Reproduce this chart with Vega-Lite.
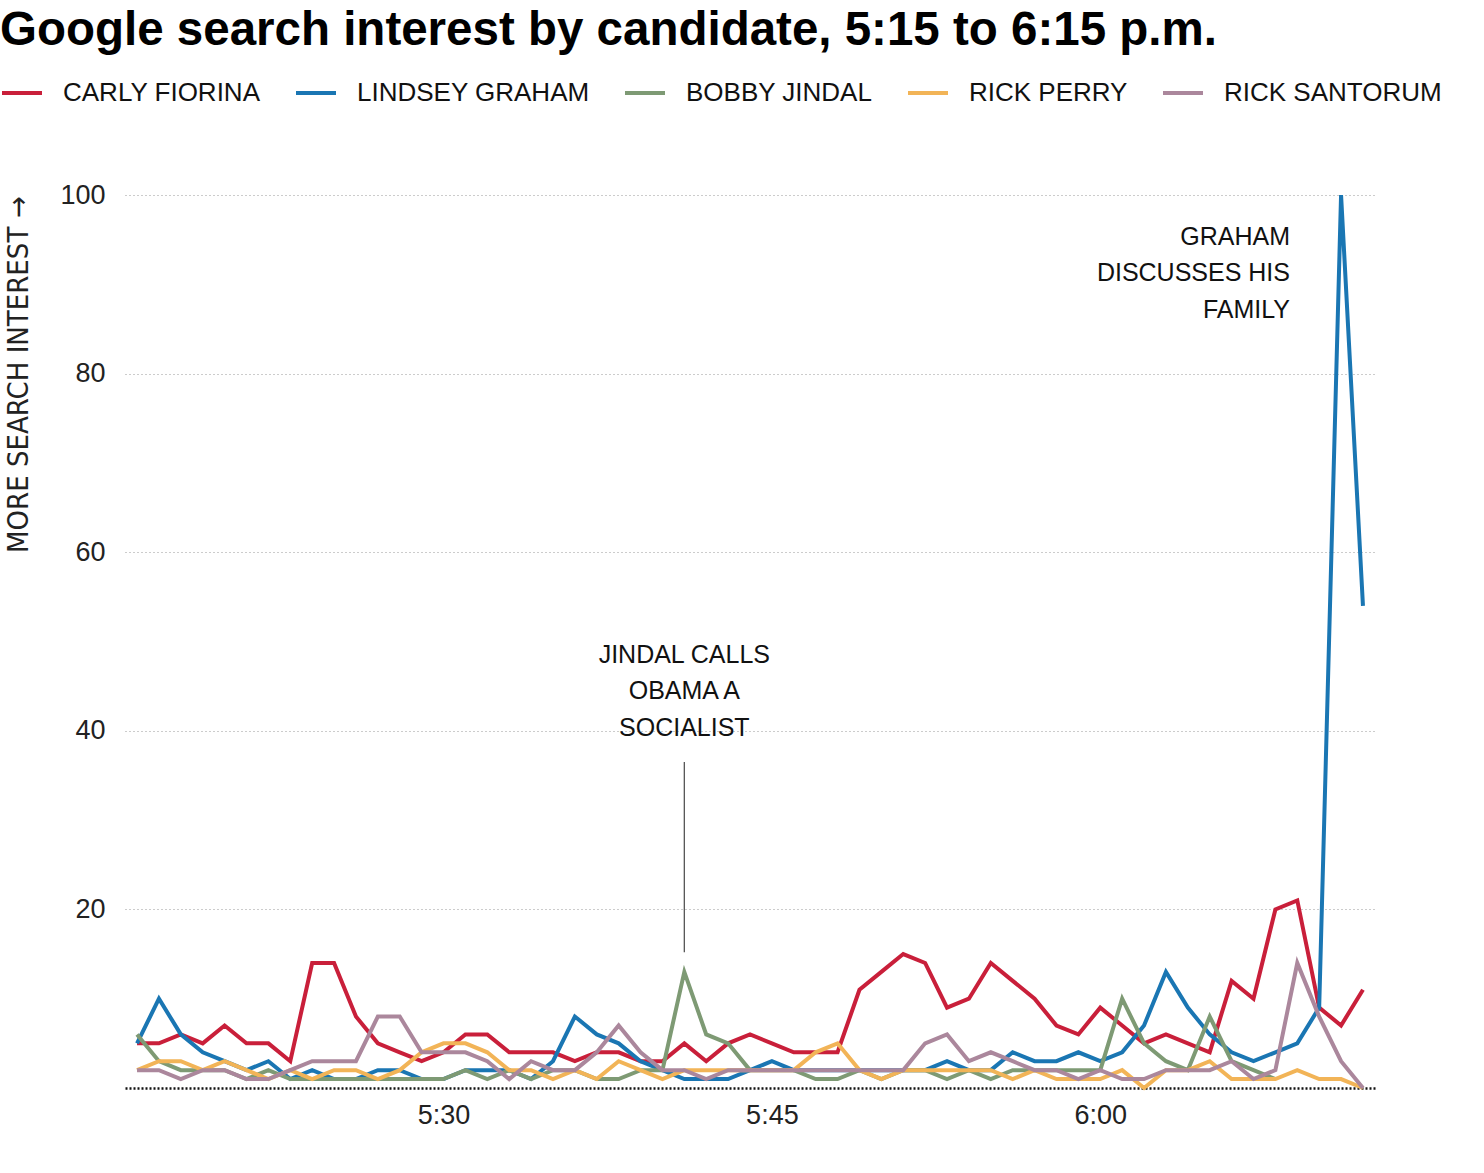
{
  "$schema": "https://vega.github.io/schema/vega-lite/v6.json",
  "width": 1250,
  "height": 893,
  "autosize": {"type": "none"},
  "padding": {"left": 125, "top": 195, "right": 109, "bottom": 85},
  "background": "white",
  "title": {
    "text": "Google search interest by candidate, 5:15 to 6:15 p.m.",
    "anchor": "start",
    "frame": "group",
    "dx": -125,
    "offset": 17,
    "font": "Liberation Sans",
    "fontSize": 47.5,
    "fontWeight": "bold",
    "color": "#000"
  },
  "config": {
    "view": {"stroke": null},
    "axis": {"labelFont": "Liberation Sans", "labelFontSize": 27, "labelColor": "#222", "ticks": false, "domain": false, "titleFont": "Liberation Sans", "titleFontWeight": "normal", "titleColor": "#222"},
    "legend": {
      "orient": "none", "legendX": -125, "legendY": -124, "direction": "horizontal",
      "symbolType": "stroke", "symbolSize": 1600, "symbolStrokeWidth": 4,
      "labelFont": "Liberation Sans", "labelFontSize": 26, "labelColor": "#111", "labelLimit": 0,
      "labelOffset": 19, "columnPadding": 27, "padding": 0
    }
  },
  "data": {"values": [
    {"time": "2015-08-06T17:16", "name": "CARLY FIORINA", "value": 5},
    {"time": "2015-08-06T17:17", "name": "CARLY FIORINA", "value": 5},
    {"time": "2015-08-06T17:18", "name": "CARLY FIORINA", "value": 6},
    {"time": "2015-08-06T17:19", "name": "CARLY FIORINA", "value": 5},
    {"time": "2015-08-06T17:20", "name": "CARLY FIORINA", "value": 7},
    {"time": "2015-08-06T17:21", "name": "CARLY FIORINA", "value": 5},
    {"time": "2015-08-06T17:22", "name": "CARLY FIORINA", "value": 5},
    {"time": "2015-08-06T17:23", "name": "CARLY FIORINA", "value": 3},
    {"time": "2015-08-06T17:24", "name": "CARLY FIORINA", "value": 14},
    {"time": "2015-08-06T17:25", "name": "CARLY FIORINA", "value": 14},
    {"time": "2015-08-06T17:26", "name": "CARLY FIORINA", "value": 8},
    {"time": "2015-08-06T17:27", "name": "CARLY FIORINA", "value": 5},
    {"time": "2015-08-06T17:28", "name": "CARLY FIORINA", "value": 4},
    {"time": "2015-08-06T17:29", "name": "CARLY FIORINA", "value": 3},
    {"time": "2015-08-06T17:30", "name": "CARLY FIORINA", "value": 4},
    {"time": "2015-08-06T17:31", "name": "CARLY FIORINA", "value": 6},
    {"time": "2015-08-06T17:32", "name": "CARLY FIORINA", "value": 6},
    {"time": "2015-08-06T17:33", "name": "CARLY FIORINA", "value": 4},
    {"time": "2015-08-06T17:34", "name": "CARLY FIORINA", "value": 4},
    {"time": "2015-08-06T17:35", "name": "CARLY FIORINA", "value": 4},
    {"time": "2015-08-06T17:36", "name": "CARLY FIORINA", "value": 3},
    {"time": "2015-08-06T17:37", "name": "CARLY FIORINA", "value": 4},
    {"time": "2015-08-06T17:38", "name": "CARLY FIORINA", "value": 4},
    {"time": "2015-08-06T17:39", "name": "CARLY FIORINA", "value": 3},
    {"time": "2015-08-06T17:40", "name": "CARLY FIORINA", "value": 3},
    {"time": "2015-08-06T17:41", "name": "CARLY FIORINA", "value": 5},
    {"time": "2015-08-06T17:42", "name": "CARLY FIORINA", "value": 3},
    {"time": "2015-08-06T17:43", "name": "CARLY FIORINA", "value": 5},
    {"time": "2015-08-06T17:44", "name": "CARLY FIORINA", "value": 6},
    {"time": "2015-08-06T17:45", "name": "CARLY FIORINA", "value": 5},
    {"time": "2015-08-06T17:46", "name": "CARLY FIORINA", "value": 4},
    {"time": "2015-08-06T17:47", "name": "CARLY FIORINA", "value": 4},
    {"time": "2015-08-06T17:48", "name": "CARLY FIORINA", "value": 4},
    {"time": "2015-08-06T17:49", "name": "CARLY FIORINA", "value": 11},
    {"time": "2015-08-06T17:50", "name": "CARLY FIORINA", "value": 13},
    {"time": "2015-08-06T17:51", "name": "CARLY FIORINA", "value": 15},
    {"time": "2015-08-06T17:52", "name": "CARLY FIORINA", "value": 14},
    {"time": "2015-08-06T17:53", "name": "CARLY FIORINA", "value": 9},
    {"time": "2015-08-06T17:54", "name": "CARLY FIORINA", "value": 10},
    {"time": "2015-08-06T17:55", "name": "CARLY FIORINA", "value": 14},
    {"time": "2015-08-06T17:56", "name": "CARLY FIORINA", "value": 12},
    {"time": "2015-08-06T17:57", "name": "CARLY FIORINA", "value": 10},
    {"time": "2015-08-06T17:58", "name": "CARLY FIORINA", "value": 7},
    {"time": "2015-08-06T17:59", "name": "CARLY FIORINA", "value": 6},
    {"time": "2015-08-06T18:00", "name": "CARLY FIORINA", "value": 9},
    {"time": "2015-08-06T18:01", "name": "CARLY FIORINA", "value": 7},
    {"time": "2015-08-06T18:02", "name": "CARLY FIORINA", "value": 5},
    {"time": "2015-08-06T18:03", "name": "CARLY FIORINA", "value": 6},
    {"time": "2015-08-06T18:04", "name": "CARLY FIORINA", "value": 5},
    {"time": "2015-08-06T18:05", "name": "CARLY FIORINA", "value": 4},
    {"time": "2015-08-06T18:06", "name": "CARLY FIORINA", "value": 12},
    {"time": "2015-08-06T18:07", "name": "CARLY FIORINA", "value": 10},
    {"time": "2015-08-06T18:08", "name": "CARLY FIORINA", "value": 20},
    {"time": "2015-08-06T18:09", "name": "CARLY FIORINA", "value": 21},
    {"time": "2015-08-06T18:10", "name": "CARLY FIORINA", "value": 9},
    {"time": "2015-08-06T18:11", "name": "CARLY FIORINA", "value": 7},
    {"time": "2015-08-06T18:12", "name": "CARLY FIORINA", "value": 11},

    {"time": "2015-08-06T17:16", "name": "LINDSEY GRAHAM", "value": 5},
    {"time": "2015-08-06T17:17", "name": "LINDSEY GRAHAM", "value": 10},
    {"time": "2015-08-06T17:18", "name": "LINDSEY GRAHAM", "value": 6},
    {"time": "2015-08-06T17:19", "name": "LINDSEY GRAHAM", "value": 4},
    {"time": "2015-08-06T17:20", "name": "LINDSEY GRAHAM", "value": 3},
    {"time": "2015-08-06T17:21", "name": "LINDSEY GRAHAM", "value": 2},
    {"time": "2015-08-06T17:22", "name": "LINDSEY GRAHAM", "value": 3},
    {"time": "2015-08-06T17:23", "name": "LINDSEY GRAHAM", "value": 1},
    {"time": "2015-08-06T17:24", "name": "LINDSEY GRAHAM", "value": 2},
    {"time": "2015-08-06T17:25", "name": "LINDSEY GRAHAM", "value": 1},
    {"time": "2015-08-06T17:26", "name": "LINDSEY GRAHAM", "value": 1},
    {"time": "2015-08-06T17:27", "name": "LINDSEY GRAHAM", "value": 2},
    {"time": "2015-08-06T17:28", "name": "LINDSEY GRAHAM", "value": 2},
    {"time": "2015-08-06T17:29", "name": "LINDSEY GRAHAM", "value": 1},
    {"time": "2015-08-06T17:30", "name": "LINDSEY GRAHAM", "value": 1},
    {"time": "2015-08-06T17:31", "name": "LINDSEY GRAHAM", "value": 2},
    {"time": "2015-08-06T17:32", "name": "LINDSEY GRAHAM", "value": 2},
    {"time": "2015-08-06T17:33", "name": "LINDSEY GRAHAM", "value": 2},
    {"time": "2015-08-06T17:34", "name": "LINDSEY GRAHAM", "value": 1},
    {"time": "2015-08-06T17:35", "name": "LINDSEY GRAHAM", "value": 3},
    {"time": "2015-08-06T17:36", "name": "LINDSEY GRAHAM", "value": 8},
    {"time": "2015-08-06T17:37", "name": "LINDSEY GRAHAM", "value": 6},
    {"time": "2015-08-06T17:38", "name": "LINDSEY GRAHAM", "value": 5},
    {"time": "2015-08-06T17:39", "name": "LINDSEY GRAHAM", "value": 3},
    {"time": "2015-08-06T17:40", "name": "LINDSEY GRAHAM", "value": 2},
    {"time": "2015-08-06T17:41", "name": "LINDSEY GRAHAM", "value": 1},
    {"time": "2015-08-06T17:42", "name": "LINDSEY GRAHAM", "value": 1},
    {"time": "2015-08-06T17:43", "name": "LINDSEY GRAHAM", "value": 1},
    {"time": "2015-08-06T17:44", "name": "LINDSEY GRAHAM", "value": 2},
    {"time": "2015-08-06T17:45", "name": "LINDSEY GRAHAM", "value": 3},
    {"time": "2015-08-06T17:46", "name": "LINDSEY GRAHAM", "value": 2},
    {"time": "2015-08-06T17:47", "name": "LINDSEY GRAHAM", "value": 2},
    {"time": "2015-08-06T17:48", "name": "LINDSEY GRAHAM", "value": 2},
    {"time": "2015-08-06T17:49", "name": "LINDSEY GRAHAM", "value": 2},
    {"time": "2015-08-06T17:50", "name": "LINDSEY GRAHAM", "value": 2},
    {"time": "2015-08-06T17:51", "name": "LINDSEY GRAHAM", "value": 2},
    {"time": "2015-08-06T17:52", "name": "LINDSEY GRAHAM", "value": 2},
    {"time": "2015-08-06T17:53", "name": "LINDSEY GRAHAM", "value": 3},
    {"time": "2015-08-06T17:54", "name": "LINDSEY GRAHAM", "value": 2},
    {"time": "2015-08-06T17:55", "name": "LINDSEY GRAHAM", "value": 2},
    {"time": "2015-08-06T17:56", "name": "LINDSEY GRAHAM", "value": 4},
    {"time": "2015-08-06T17:57", "name": "LINDSEY GRAHAM", "value": 3},
    {"time": "2015-08-06T17:58", "name": "LINDSEY GRAHAM", "value": 3},
    {"time": "2015-08-06T17:59", "name": "LINDSEY GRAHAM", "value": 4},
    {"time": "2015-08-06T18:00", "name": "LINDSEY GRAHAM", "value": 3},
    {"time": "2015-08-06T18:01", "name": "LINDSEY GRAHAM", "value": 4},
    {"time": "2015-08-06T18:02", "name": "LINDSEY GRAHAM", "value": 7},
    {"time": "2015-08-06T18:03", "name": "LINDSEY GRAHAM", "value": 13},
    {"time": "2015-08-06T18:04", "name": "LINDSEY GRAHAM", "value": 9},
    {"time": "2015-08-06T18:05", "name": "LINDSEY GRAHAM", "value": 6},
    {"time": "2015-08-06T18:06", "name": "LINDSEY GRAHAM", "value": 4},
    {"time": "2015-08-06T18:07", "name": "LINDSEY GRAHAM", "value": 3},
    {"time": "2015-08-06T18:08", "name": "LINDSEY GRAHAM", "value": 4},
    {"time": "2015-08-06T18:09", "name": "LINDSEY GRAHAM", "value": 5},
    {"time": "2015-08-06T18:10", "name": "LINDSEY GRAHAM", "value": 9},
    {"time": "2015-08-06T18:11", "name": "LINDSEY GRAHAM", "value": 100},
    {"time": "2015-08-06T18:12", "name": "LINDSEY GRAHAM", "value": 54},

    {"time": "2015-08-06T17:16", "name": "BOBBY JINDAL", "value": 6},
    {"time": "2015-08-06T17:17", "name": "BOBBY JINDAL", "value": 3},
    {"time": "2015-08-06T17:18", "name": "BOBBY JINDAL", "value": 2},
    {"time": "2015-08-06T17:19", "name": "BOBBY JINDAL", "value": 2},
    {"time": "2015-08-06T17:20", "name": "BOBBY JINDAL", "value": 2},
    {"time": "2015-08-06T17:21", "name": "BOBBY JINDAL", "value": 1},
    {"time": "2015-08-06T17:22", "name": "BOBBY JINDAL", "value": 2},
    {"time": "2015-08-06T17:23", "name": "BOBBY JINDAL", "value": 1},
    {"time": "2015-08-06T17:24", "name": "BOBBY JINDAL", "value": 1},
    {"time": "2015-08-06T17:25", "name": "BOBBY JINDAL", "value": 1},
    {"time": "2015-08-06T17:26", "name": "BOBBY JINDAL", "value": 1},
    {"time": "2015-08-06T17:27", "name": "BOBBY JINDAL", "value": 1},
    {"time": "2015-08-06T17:28", "name": "BOBBY JINDAL", "value": 1},
    {"time": "2015-08-06T17:29", "name": "BOBBY JINDAL", "value": 1},
    {"time": "2015-08-06T17:30", "name": "BOBBY JINDAL", "value": 1},
    {"time": "2015-08-06T17:31", "name": "BOBBY JINDAL", "value": 2},
    {"time": "2015-08-06T17:32", "name": "BOBBY JINDAL", "value": 1},
    {"time": "2015-08-06T17:33", "name": "BOBBY JINDAL", "value": 2},
    {"time": "2015-08-06T17:34", "name": "BOBBY JINDAL", "value": 1},
    {"time": "2015-08-06T17:35", "name": "BOBBY JINDAL", "value": 2},
    {"time": "2015-08-06T17:36", "name": "BOBBY JINDAL", "value": 2},
    {"time": "2015-08-06T17:37", "name": "BOBBY JINDAL", "value": 1},
    {"time": "2015-08-06T17:38", "name": "BOBBY JINDAL", "value": 1},
    {"time": "2015-08-06T17:39", "name": "BOBBY JINDAL", "value": 2},
    {"time": "2015-08-06T17:40", "name": "BOBBY JINDAL", "value": 2},
    {"time": "2015-08-06T17:41", "name": "BOBBY JINDAL", "value": 13},
    {"time": "2015-08-06T17:42", "name": "BOBBY JINDAL", "value": 6},
    {"time": "2015-08-06T17:43", "name": "BOBBY JINDAL", "value": 5},
    {"time": "2015-08-06T17:44", "name": "BOBBY JINDAL", "value": 2},
    {"time": "2015-08-06T17:45", "name": "BOBBY JINDAL", "value": 2},
    {"time": "2015-08-06T17:46", "name": "BOBBY JINDAL", "value": 2},
    {"time": "2015-08-06T17:47", "name": "BOBBY JINDAL", "value": 1},
    {"time": "2015-08-06T17:48", "name": "BOBBY JINDAL", "value": 1},
    {"time": "2015-08-06T17:49", "name": "BOBBY JINDAL", "value": 2},
    {"time": "2015-08-06T17:50", "name": "BOBBY JINDAL", "value": 1},
    {"time": "2015-08-06T17:51", "name": "BOBBY JINDAL", "value": 2},
    {"time": "2015-08-06T17:52", "name": "BOBBY JINDAL", "value": 2},
    {"time": "2015-08-06T17:53", "name": "BOBBY JINDAL", "value": 1},
    {"time": "2015-08-06T17:54", "name": "BOBBY JINDAL", "value": 2},
    {"time": "2015-08-06T17:55", "name": "BOBBY JINDAL", "value": 1},
    {"time": "2015-08-06T17:56", "name": "BOBBY JINDAL", "value": 2},
    {"time": "2015-08-06T17:57", "name": "BOBBY JINDAL", "value": 2},
    {"time": "2015-08-06T17:58", "name": "BOBBY JINDAL", "value": 2},
    {"time": "2015-08-06T17:59", "name": "BOBBY JINDAL", "value": 2},
    {"time": "2015-08-06T18:00", "name": "BOBBY JINDAL", "value": 2},
    {"time": "2015-08-06T18:01", "name": "BOBBY JINDAL", "value": 10},
    {"time": "2015-08-06T18:02", "name": "BOBBY JINDAL", "value": 5},
    {"time": "2015-08-06T18:03", "name": "BOBBY JINDAL", "value": 3},
    {"time": "2015-08-06T18:04", "name": "BOBBY JINDAL", "value": 2},
    {"time": "2015-08-06T18:05", "name": "BOBBY JINDAL", "value": 8},
    {"time": "2015-08-06T18:06", "name": "BOBBY JINDAL", "value": 3},
    {"time": "2015-08-06T18:07", "name": "BOBBY JINDAL", "value": 2},
    {"time": "2015-08-06T18:08", "name": "BOBBY JINDAL", "value": 1},

    {"time": "2015-08-06T17:16", "name": "RICK PERRY", "value": 2},
    {"time": "2015-08-06T17:17", "name": "RICK PERRY", "value": 3},
    {"time": "2015-08-06T17:18", "name": "RICK PERRY", "value": 3},
    {"time": "2015-08-06T17:19", "name": "RICK PERRY", "value": 2},
    {"time": "2015-08-06T17:20", "name": "RICK PERRY", "value": 3},
    {"time": "2015-08-06T17:21", "name": "RICK PERRY", "value": 2},
    {"time": "2015-08-06T17:22", "name": "RICK PERRY", "value": 1},
    {"time": "2015-08-06T17:23", "name": "RICK PERRY", "value": 2},
    {"time": "2015-08-06T17:24", "name": "RICK PERRY", "value": 1},
    {"time": "2015-08-06T17:25", "name": "RICK PERRY", "value": 2},
    {"time": "2015-08-06T17:26", "name": "RICK PERRY", "value": 2},
    {"time": "2015-08-06T17:27", "name": "RICK PERRY", "value": 1},
    {"time": "2015-08-06T17:28", "name": "RICK PERRY", "value": 2},
    {"time": "2015-08-06T17:29", "name": "RICK PERRY", "value": 4},
    {"time": "2015-08-06T17:30", "name": "RICK PERRY", "value": 5},
    {"time": "2015-08-06T17:31", "name": "RICK PERRY", "value": 5},
    {"time": "2015-08-06T17:32", "name": "RICK PERRY", "value": 4},
    {"time": "2015-08-06T17:33", "name": "RICK PERRY", "value": 2},
    {"time": "2015-08-06T17:34", "name": "RICK PERRY", "value": 2},
    {"time": "2015-08-06T17:35", "name": "RICK PERRY", "value": 1},
    {"time": "2015-08-06T17:36", "name": "RICK PERRY", "value": 2},
    {"time": "2015-08-06T17:37", "name": "RICK PERRY", "value": 1},
    {"time": "2015-08-06T17:38", "name": "RICK PERRY", "value": 3},
    {"time": "2015-08-06T17:39", "name": "RICK PERRY", "value": 2},
    {"time": "2015-08-06T17:40", "name": "RICK PERRY", "value": 1},
    {"time": "2015-08-06T17:41", "name": "RICK PERRY", "value": 2},
    {"time": "2015-08-06T17:42", "name": "RICK PERRY", "value": 2},
    {"time": "2015-08-06T17:43", "name": "RICK PERRY", "value": 2},
    {"time": "2015-08-06T17:44", "name": "RICK PERRY", "value": 2},
    {"time": "2015-08-06T17:45", "name": "RICK PERRY", "value": 2},
    {"time": "2015-08-06T17:46", "name": "RICK PERRY", "value": 2},
    {"time": "2015-08-06T17:47", "name": "RICK PERRY", "value": 4},
    {"time": "2015-08-06T17:48", "name": "RICK PERRY", "value": 5},
    {"time": "2015-08-06T17:49", "name": "RICK PERRY", "value": 2},
    {"time": "2015-08-06T17:50", "name": "RICK PERRY", "value": 1},
    {"time": "2015-08-06T17:51", "name": "RICK PERRY", "value": 2},
    {"time": "2015-08-06T17:52", "name": "RICK PERRY", "value": 2},
    {"time": "2015-08-06T17:53", "name": "RICK PERRY", "value": 2},
    {"time": "2015-08-06T17:54", "name": "RICK PERRY", "value": 2},
    {"time": "2015-08-06T17:55", "name": "RICK PERRY", "value": 2},
    {"time": "2015-08-06T17:56", "name": "RICK PERRY", "value": 1},
    {"time": "2015-08-06T17:57", "name": "RICK PERRY", "value": 2},
    {"time": "2015-08-06T17:58", "name": "RICK PERRY", "value": 1},
    {"time": "2015-08-06T17:59", "name": "RICK PERRY", "value": 1},
    {"time": "2015-08-06T18:00", "name": "RICK PERRY", "value": 1},
    {"time": "2015-08-06T18:01", "name": "RICK PERRY", "value": 2},
    {"time": "2015-08-06T18:02", "name": "RICK PERRY", "value": 0},
    {"time": "2015-08-06T18:03", "name": "RICK PERRY", "value": 2},
    {"time": "2015-08-06T18:04", "name": "RICK PERRY", "value": 2},
    {"time": "2015-08-06T18:05", "name": "RICK PERRY", "value": 3},
    {"time": "2015-08-06T18:06", "name": "RICK PERRY", "value": 1},
    {"time": "2015-08-06T18:07", "name": "RICK PERRY", "value": 1},
    {"time": "2015-08-06T18:08", "name": "RICK PERRY", "value": 1},
    {"time": "2015-08-06T18:09", "name": "RICK PERRY", "value": 2},
    {"time": "2015-08-06T18:10", "name": "RICK PERRY", "value": 1},
    {"time": "2015-08-06T18:11", "name": "RICK PERRY", "value": 1},
    {"time": "2015-08-06T18:12", "name": "RICK PERRY", "value": 0},

    {"time": "2015-08-06T17:16", "name": "RICK SANTORUM", "value": 2},
    {"time": "2015-08-06T17:17", "name": "RICK SANTORUM", "value": 2},
    {"time": "2015-08-06T17:18", "name": "RICK SANTORUM", "value": 1},
    {"time": "2015-08-06T17:19", "name": "RICK SANTORUM", "value": 2},
    {"time": "2015-08-06T17:20", "name": "RICK SANTORUM", "value": 2},
    {"time": "2015-08-06T17:21", "name": "RICK SANTORUM", "value": 1},
    {"time": "2015-08-06T17:22", "name": "RICK SANTORUM", "value": 1},
    {"time": "2015-08-06T17:23", "name": "RICK SANTORUM", "value": 2},
    {"time": "2015-08-06T17:24", "name": "RICK SANTORUM", "value": 3},
    {"time": "2015-08-06T17:25", "name": "RICK SANTORUM", "value": 3},
    {"time": "2015-08-06T17:26", "name": "RICK SANTORUM", "value": 3},
    {"time": "2015-08-06T17:27", "name": "RICK SANTORUM", "value": 8},
    {"time": "2015-08-06T17:28", "name": "RICK SANTORUM", "value": 8},
    {"time": "2015-08-06T17:29", "name": "RICK SANTORUM", "value": 4},
    {"time": "2015-08-06T17:30", "name": "RICK SANTORUM", "value": 4},
    {"time": "2015-08-06T17:31", "name": "RICK SANTORUM", "value": 4},
    {"time": "2015-08-06T17:32", "name": "RICK SANTORUM", "value": 3},
    {"time": "2015-08-06T17:33", "name": "RICK SANTORUM", "value": 1},
    {"time": "2015-08-06T17:34", "name": "RICK SANTORUM", "value": 3},
    {"time": "2015-08-06T17:35", "name": "RICK SANTORUM", "value": 2},
    {"time": "2015-08-06T17:36", "name": "RICK SANTORUM", "value": 2},
    {"time": "2015-08-06T17:37", "name": "RICK SANTORUM", "value": 4},
    {"time": "2015-08-06T17:38", "name": "RICK SANTORUM", "value": 7},
    {"time": "2015-08-06T17:39", "name": "RICK SANTORUM", "value": 4},
    {"time": "2015-08-06T17:40", "name": "RICK SANTORUM", "value": 2},
    {"time": "2015-08-06T17:41", "name": "RICK SANTORUM", "value": 2},
    {"time": "2015-08-06T17:42", "name": "RICK SANTORUM", "value": 1},
    {"time": "2015-08-06T17:43", "name": "RICK SANTORUM", "value": 2},
    {"time": "2015-08-06T17:44", "name": "RICK SANTORUM", "value": 2},
    {"time": "2015-08-06T17:45", "name": "RICK SANTORUM", "value": 2},
    {"time": "2015-08-06T17:46", "name": "RICK SANTORUM", "value": 2},
    {"time": "2015-08-06T17:47", "name": "RICK SANTORUM", "value": 2},
    {"time": "2015-08-06T17:48", "name": "RICK SANTORUM", "value": 2},
    {"time": "2015-08-06T17:49", "name": "RICK SANTORUM", "value": 2},
    {"time": "2015-08-06T17:50", "name": "RICK SANTORUM", "value": 2},
    {"time": "2015-08-06T17:51", "name": "RICK SANTORUM", "value": 2},
    {"time": "2015-08-06T17:52", "name": "RICK SANTORUM", "value": 5},
    {"time": "2015-08-06T17:53", "name": "RICK SANTORUM", "value": 6},
    {"time": "2015-08-06T17:54", "name": "RICK SANTORUM", "value": 3},
    {"time": "2015-08-06T17:55", "name": "RICK SANTORUM", "value": 4},
    {"time": "2015-08-06T17:56", "name": "RICK SANTORUM", "value": 3},
    {"time": "2015-08-06T17:57", "name": "RICK SANTORUM", "value": 2},
    {"time": "2015-08-06T17:58", "name": "RICK SANTORUM", "value": 2},
    {"time": "2015-08-06T17:59", "name": "RICK SANTORUM", "value": 1},
    {"time": "2015-08-06T18:00", "name": "RICK SANTORUM", "value": 2},
    {"time": "2015-08-06T18:01", "name": "RICK SANTORUM", "value": 1},
    {"time": "2015-08-06T18:02", "name": "RICK SANTORUM", "value": 1},
    {"time": "2015-08-06T18:03", "name": "RICK SANTORUM", "value": 2},
    {"time": "2015-08-06T18:04", "name": "RICK SANTORUM", "value": 2},
    {"time": "2015-08-06T18:05", "name": "RICK SANTORUM", "value": 2},
    {"time": "2015-08-06T18:06", "name": "RICK SANTORUM", "value": 3},
    {"time": "2015-08-06T18:07", "name": "RICK SANTORUM", "value": 1},
    {"time": "2015-08-06T18:08", "name": "RICK SANTORUM", "value": 2},
    {"time": "2015-08-06T18:09", "name": "RICK SANTORUM", "value": 14},
    {"time": "2015-08-06T18:10", "name": "RICK SANTORUM", "value": 8},
    {"time": "2015-08-06T18:11", "name": "RICK SANTORUM", "value": 3},
    {"time": "2015-08-06T18:12", "name": "RICK SANTORUM", "value": 0}
  ]},
  "layer": [
    {
      "mark": {"type": "line", "strokeWidth": 4},
      "encoding": {
        "x": {
          "field": "time", "type": "temporal",
          "scale": {"domain": [
            {"year": 2015, "month": 8, "date": 6, "hours": 17, "minutes": 15, "seconds": 27},
            {"year": 2015, "month": 8, "date": 6, "hours": 18, "minutes": 12, "seconds": 33}
          ]},
          "axis": {
            "title": null, "grid": false, "format": "%-I:%M", "labelPadding": 14,
            "values": [
              {"year": 2015, "month": 8, "date": 6, "hours": 17, "minutes": 30},
              {"year": 2015, "month": 8, "date": 6, "hours": 17, "minutes": 45},
              {"year": 2015, "month": 8, "date": 6, "hours": 18, "minutes": 0}
            ]
          }
        },
        "y": {
          "field": "value", "type": "quantitative",
          "scale": {"domain": [0, 100], "nice": false},
          "axis": {
            "title": "MORE SEARCH INTEREST →",
            "titleFont": "DejaVu Sans Condensed",
            "titleFontSize": 29,
            "titleX": -107, "titleY": 1, "titleAngle": -90, "titleAlign": "right", "titleBaseline": "middle",
            "values": [0, 20, 40, 60, 80, 100],
            "labelPadding": 20,
            "labelExpr": "datum.value === 0 ? '' : datum.label",
            "grid": true,
            "gridColor": {"condition": {"test": "datum.value === 0", "value": "#111"}, "value": "#999"},
            "gridWidth": {"condition": {"test": "datum.value === 0", "value": 2.5}, "value": 1},
            "gridDash": {"condition": {"test": "datum.value === 0", "value": [2, 2]}, "value": [1, 3]}
          }
        },
        "color": {
          "field": "name", "type": "nominal",
          "scale": {
            "domain": ["CARLY FIORINA", "LINDSEY GRAHAM", "BOBBY JINDAL", "RICK PERRY", "RICK SANTORUM"],
            "range": ["#c91f3a", "#1a76b3", "#7e9a74", "#f2b457", "#ab879c"]
          },
          "legend": {"title": null}
        }
      }
    },
    {
      "data": {"values": [{"time": "2015-08-06T17:41", "top": 36.5, "bottom": 15.2}]},
      "mark": {"type": "rule", "color": "#555", "strokeWidth": 1.3},
      "encoding": {
        "x": {"field": "time", "type": "temporal"},
        "y": {"field": "top", "type": "quantitative"},
        "y2": {"field": "bottom"}
      }
    },
    {
      "data": {"values": [{"time": "2015-08-06T17:41", "value": 48.5, "note": ["JINDAL CALLS", "OBAMA A", "SOCIALIST"]}]},
      "mark": {"type": "text", "align": "center", "baseline": "middle", "font": "Liberation Sans", "fontSize": 25, "lineHeight": 36.5, "color": "#111"},
      "encoding": {
        "x": {"field": "time", "type": "temporal"},
        "y": {"field": "value", "type": "quantitative"},
        "text": {"field": "note"}
      }
    },
    {
      "data": {"values": [{"time": "2015-08-06T18:08:40", "value": 95.3, "note": ["GRAHAM", "DISCUSSES HIS", "FAMILY"]}]},
      "mark": {"type": "text", "align": "right", "baseline": "middle", "font": "Liberation Sans", "fontSize": 25, "lineHeight": 36.5, "color": "#111"},
      "encoding": {
        "x": {"field": "time", "type": "temporal"},
        "y": {"field": "value", "type": "quantitative"},
        "text": {"field": "note"}
      }
    }
  ]
}
